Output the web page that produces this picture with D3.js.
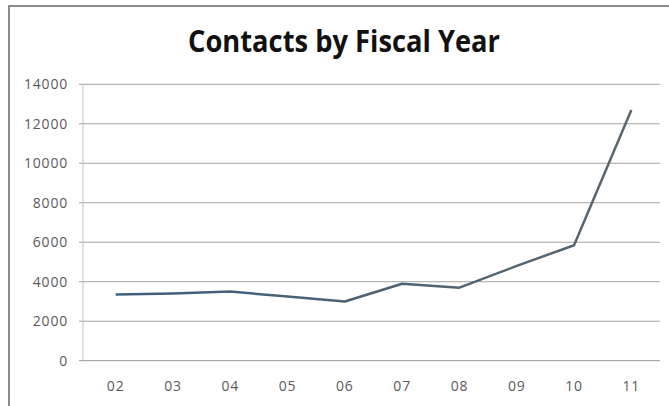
<!DOCTYPE html>
<html>
<head>
<meta charset="utf-8">
<script src="https://cdn.jsdelivr.net/npm/d3@7/dist/d3.min.js"></script>
<style>
  html,body{margin:0;padding:0;background:#fff;}
  svg{display:block;}
</style>
</head>
<body>
<div id="chart"></div>
<script>
// data
const years = ['02','03','04','05','06','07','08','09','10','11'];
const contacts = [3350, 3400, 3500, 3250, 3000, 3900, 3700, 4800, 5850, 12700];
const yTicks = [0, 2000, 4000, 6000, 8000, 10000, 12000, 14000];

const W = 669, H = 406;
const svg = d3.select('#chart').append('svg').attr('width', W).attr('height', H);

// chart frame (only top and left edges visible in crop)
svg.append('path')
  .attr('d', `M9,${H} L9,6 L${W},6`)
  .attr('fill', 'none').attr('stroke', '#8c8c8c').attr('stroke-width', 2);

svg.append('text')
  .attr('x', 344).attr('y', 52)
  .attr('text-anchor', 'middle')
  .attr('font-family', 'Open Sans, sans-serif')
  .attr('font-weight', 700).attr('font-size', 30)
  .attr('textLength', 312).attr('lengthAdjust', 'spacingAndGlyphs')
  .attr('fill', '#111')
  .text('Contacts by Fiscal Year');

const x = d3.scalePoint().domain(years).range([87, 660]).padding(0.5);
const y = d3.scaleLinear().domain([0, 14000]).range([360.7, 84.3]);

// gridlines
svg.append('g').selectAll('line').data(yTicks).join('line')
  .attr('x1', 79).attr('x2', 660)
  .attr('y1', d => y(d)).attr('y2', d => y(d))
  .attr('stroke', d => d === 0 ? '#959595' : '#a3a3a3').attr('stroke-width', 1);

// y axis line
svg.append('line')
  .attr('x1', 83).attr('x2', 83).attr('y1', y(14000)).attr('y2', y(0))
  .attr('stroke', '#c4c4c4');

// y labels
svg.append('g').selectAll('text').data(yTicks).join('text')
  .attr('x', 68).attr('y', d => y(d)).attr('dy', '0.35em')
  .attr('text-anchor', 'end')
  .attr('font-family', 'Open Sans, sans-serif').attr('font-size', 14)
  .attr('letter-spacing', 0.8)
  .attr('fill', '#5a5a5a')
  .text(d => d);

// x labels
svg.append('g').selectAll('text').data(years).join('text')
  .attr('x', d => x(d)).attr('y', 386).attr('dy', '0.35em')
  .attr('text-anchor', 'middle')
  .attr('font-family', 'Open Sans, sans-serif').attr('font-size', 14)
  .attr('letter-spacing', 0.8)
  .attr('fill', '#5a5a5a')
  .text(d => d);

// line: bluish on the left, greyer to the right
const grad = svg.append('defs').append('linearGradient')
  .attr('id', 'lg').attr('gradientUnits', 'userSpaceOnUse')
  .attr('x1', x('02')).attr('x2', x('11')).attr('y1', 0).attr('y2', 0);
grad.append('stop').attr('offset', 0).attr('stop-color', '#3f6080');
grad.append('stop').attr('offset', 0.5).attr('stop-color', '#4d6273');
grad.append('stop').attr('offset', 1).attr('stop-color', '#5b666c');

const line = d3.line().x((d, i) => x(years[i])).y(d => y(d));
svg.append('path')
  .datum(contacts)
  .attr('d', line)
  .attr('fill', 'none')
  .attr('stroke', 'url(#lg)')
  .attr('stroke-width', 2.5)
  .attr('stroke-linejoin', 'round');
</script>
</body>
</html>
